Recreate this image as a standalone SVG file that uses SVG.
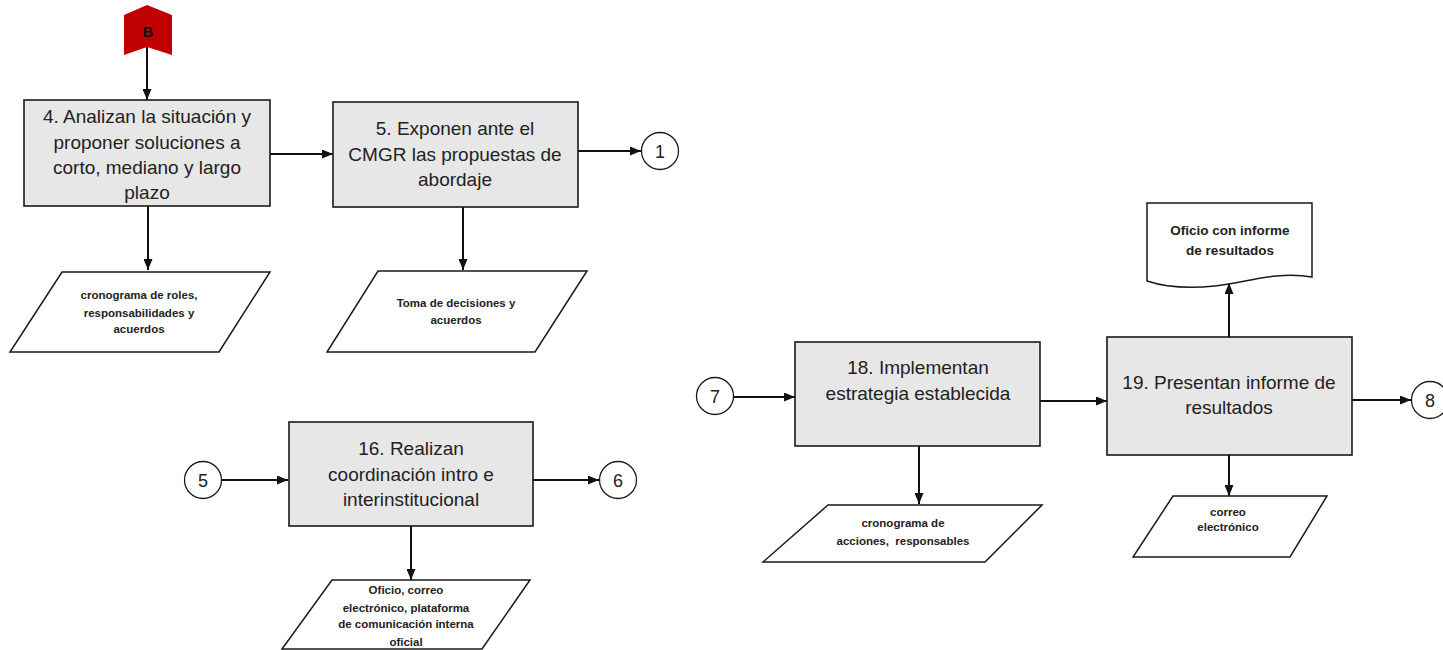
<svg xmlns="http://www.w3.org/2000/svg" width="1443" height="650" viewBox="0 0 1443 650">
<style>
.box{fill:#e7e7e7;stroke:#1a1a1a;stroke-width:1.6}
.io{fill:#fff;stroke:#1a1a1a;stroke-width:1.5}
.circ{fill:#fff;stroke:#1a1a1a;stroke-width:1.3}
.t{font-family:"Liberation Sans",Arial,sans-serif;font-size:19px;fill:#222;text-anchor:middle}
.s{font-family:"Liberation Sans",Arial,sans-serif;font-size:11.5px;font-weight:bold;fill:#222;text-anchor:middle}
.d{font-family:"Liberation Sans",Arial,sans-serif;font-size:13.5px;font-weight:bold;fill:#222;text-anchor:middle}
.n{font-family:"Liberation Sans",Arial,sans-serif;font-size:18px;fill:#222;text-anchor:middle}
.c{fill:none;stroke:#111;stroke-width:2;marker-end:url(#ah)}
</style>
<defs>
<marker id="ah" markerWidth="11" markerHeight="9" refX="11" refY="4.5" orient="auto" markerUnits="userSpaceOnUse">
<path d="M0,0 L11,4.5 L0,9 Z" fill="#111"/>
</marker>
</defs>
<rect width="1443" height="650" fill="#fff"/>

<g id="connectors">
<path class="c" d="M147,47 V100"/>
<path class="c" d="M270,154 H333"/>
<path class="c" d="M578,151 H641"/>
<path class="c" d="M148,206 V270"/>
<path class="c" d="M463,207 V270"/>
<path class="c" d="M221,480 H288"/>
<path class="c" d="M533,480 H599"/>
<path class="c" d="M411,526 V580"/>
<path class="c" d="M733,397 H795"/>
<path class="c" d="M1040,401 H1107"/>
<path class="c" d="M1229,337 V283"/>
<path class="c" d="M1352,400 H1411"/>
<path class="c" d="M1229,455 V496"/>
<path class="c" d="M919,446 V504"/>
</g>

<g id="marker-B">
<polygon points="124,15 147,5 172,15 172,55 147,47 124,55" fill="#c00000"/>
<text x="148" y="37" font-family="Liberation Sans,Arial,sans-serif" font-size="15" font-weight="bold" fill="#111" text-anchor="middle">B</text>
</g>

<g id="step4">
<rect class="box" x="24" y="100" width="246" height="106"/>
<text class="t" x="147" y="123">4. Analizan la situación y</text>
<text class="t" x="147" y="149">proponer soluciones a</text>
<text class="t" x="147" y="174">corto, mediano y largo</text>
<text class="t" x="147" y="199">plazo</text>
</g>

<g id="step5">
<rect class="box" x="333" y="102" width="245" height="105"/>
<text class="t" x="455" y="135">5. Exponen ante el</text>
<text class="t" x="455" y="161">CMGR las propuestas de</text>
<text class="t" x="455" y="186">abordaje</text>
</g>

<g id="conn1">
<circle class="circ" cx="660" cy="151" r="18.5"/>
<text class="n" x="660" y="157.5">1</text>
</g>

<g id="out4">
<polygon class="io" points="62,272 270,272 219,352 10,352"/>
<text class="s" x="139" y="299">cronograma de roles,</text>
<text class="s" x="139" y="317">responsabilidades y</text>
<text class="s" x="139" y="333">acuerdos</text>
</g>

<g id="out5">
<polygon class="io" points="378,271 587,271 535,352 327,352"/>
<text class="s" x="456" y="307">Toma de decisiones y</text>
<text class="s" x="456" y="324">acuerdos</text>
</g>

<g id="conn5">
<circle class="circ" cx="203" cy="480" r="18.5"/>
<text class="n" x="203" y="486.5">5</text>
</g>

<g id="step16">
<rect class="box" x="289" y="422" width="244" height="104"/>
<text class="t" x="411" y="455">16. Realizan</text>
<text class="t" x="411" y="481">coordinación intro e</text>
<text class="t" x="411" y="506">interinstitucional</text>
</g>

<g id="conn6">
<circle class="circ" cx="618" cy="480" r="18.5"/>
<text class="n" x="618" y="486.5">6</text>
</g>

<g id="out16">
<polygon class="io" points="332,580 530,580 482,649 282,649"/>
<text class="s" x="406" y="594">Oficio, correo</text>
<text class="s" x="406" y="612">electrónico, plataforma</text>
<text class="s" x="406" y="628">de comunicación interna</text>
<text class="s" x="406" y="646">oficial</text>
</g>

<g id="conn7">
<circle class="circ" cx="715" cy="396" r="18.5"/>
<text class="n" x="715" y="402.5">7</text>
</g>

<g id="step18">
<rect class="box" x="795" y="342" width="245" height="104"/>
<text class="t" x="918" y="374">18. Implementan</text>
<text class="t" x="918" y="400">estrategia establecida</text>
</g>

<g id="out18">
<polygon class="io" points="828,505 1042,505 985,562 763,562"/>
<text class="s" x="903" y="527">cronograma de</text>
<text class="s" x="903" y="545" xml:space="preserve">acciones,  responsables</text>
</g>

<g id="step19">
<rect class="box" x="1107" y="337" width="245" height="118"/>
<text class="t" x="1229" y="389">19. Presentan informe de</text>
<text class="t" x="1229" y="414">resultados</text>
</g>

<g id="doc19">
<path class="io" d="M1147,203 H1312 V277 C1275,271 1245,283 1215,286 C1185,289 1165,287 1147,281 Z"/>
<text class="d" x="1230" y="235">Oficio con informe</text>
<text class="d" x="1230" y="255">de resultados</text>
</g>

<g id="out19">
<polygon class="io" points="1173,496 1327,496 1290,557 1133,557"/>
<text class="s" x="1228" y="516">correo</text>
<text class="s" x="1228" y="531">electrónico</text>
</g>

<g id="conn8">
<circle class="circ" cx="1430" cy="400" r="18.5"/>
<text class="n" x="1430" y="406.5">8</text>
</g>
</svg>
